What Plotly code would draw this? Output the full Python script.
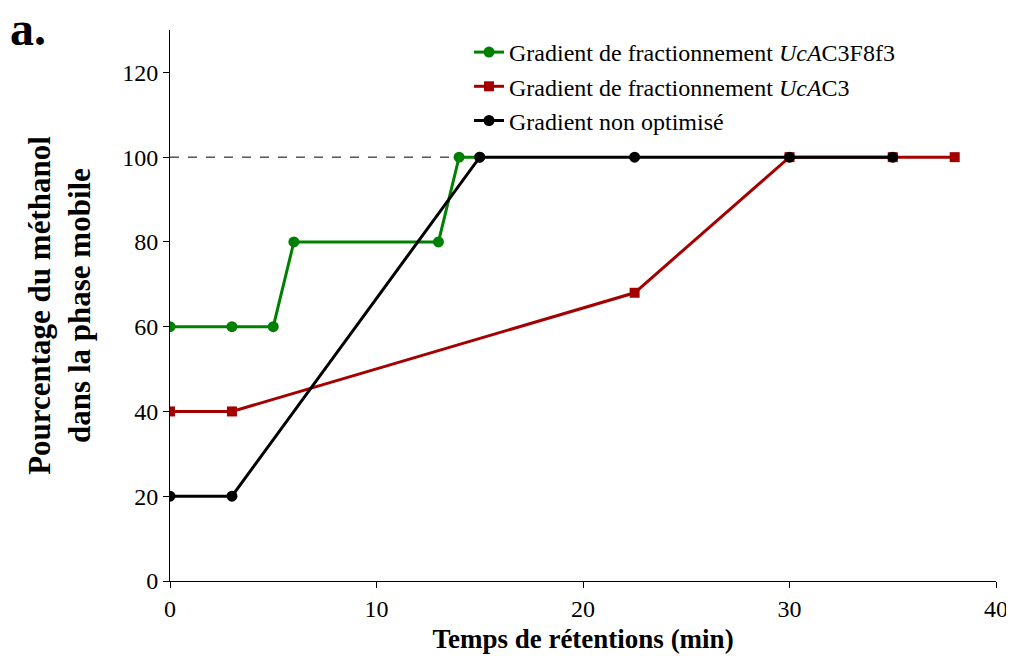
import plotly.graph_objects as go

green_x = [0, 3, 5, 6, 13, 14, 15]
green_y = [60, 60, 60, 80, 80, 100, 100]
red_x = [0, 3, 22.5, 30, 35, 38]
red_y = [40, 40, 68, 100, 100, 100]
black_x = [0, 3, 15, 22.5, 30, 35]
black_y = [20, 20, 100, 100, 100, 100]

names = ["Gradient de fractionnement <i>UcA</i>C3F8f3",
         "Gradient de fractionnement <i>UcA</i>C3",
         "Gradient non optimisé"]

FONT = "Liberation Serif"
fig = go.Figure()
fig.add_trace(go.Scatter(x=green_x, y=green_y, mode="lines+markers", name=names[0],
                         line=dict(color="#008000", width=3),
                         marker=dict(symbol="circle", size=11, color="#008000")))
fig.add_trace(go.Scatter(x=red_x, y=red_y, mode="lines+markers", name=names[1],
                         line=dict(color="#A50000", width=3),
                         marker=dict(symbol="square", size=10, color="#A50000")))
fig.add_trace(go.Scatter(x=black_x, y=black_y, mode="lines+markers", name=names[2],
                         line=dict(color="#000000", width=3),
                         marker=dict(symbol="circle", size=11, color="#000000")))

fig.add_shape(type="line", x0=0, x1=14, y0=100, y1=100, xref="x", yref="y",
              line=dict(color="black", width=1, dash="dash"), layer="below")

fig.add_annotation(text="<b>a.</b>", x=-0.196, y=1.04, xref="paper", yref="paper",
                   xanchor="left", yanchor="top", showarrow=False,
                   height=36, valign="middle",
                   font=dict(family=FONT, size=48, color="black"))

fig.update_layout(
    width=1006, height=648,
    margin=dict(l=162, r=18, t=22, b=75),
    plot_bgcolor="white", paper_bgcolor="white",
    font=dict(family=FONT, size=24, color="black"),
    showlegend=True,
    legend=dict(x=0.362, y=1.0, xanchor="left", yanchor="top",
                font=dict(family=FONT, size=24, color="black"),
                bgcolor="rgba(0,0,0,0)", tracegroupgap=0, itemwidth=30),
    xaxis=dict(range=[0, 40], tickvals=[0, 10, 20, 30, 40], showgrid=False,
               zeroline=False, showline=True, linecolor="black", linewidth=1,
               ticks="outside", ticklen=6, tickcolor="black", automargin=False,
               tickfont=dict(family=FONT, size=24),
               title=dict(text="<b>Temps de rétentions (min)</b>",
                          font=dict(family=FONT, size=27), standoff=8)),
    yaxis=dict(range=[0, 130], tickvals=[0, 20, 40, 60, 80, 100, 120], showgrid=False,
               zeroline=False, showline=True, linecolor="black", linewidth=1,
               ticks="outside", ticklen=6, tickcolor="black", automargin=False,
               tickfont=dict(family=FONT, size=24),
               title=dict(text="<b>Pourcentage du méthanol<br>dans la phase mobile</b>",
                          font=dict(family=FONT, size=31), standoff=22)),
)

fig.write_html("out.html")
